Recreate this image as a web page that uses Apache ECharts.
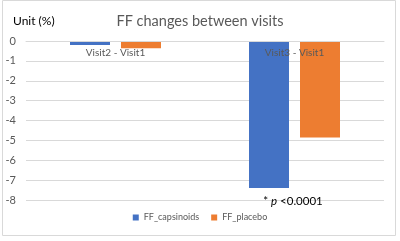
<!DOCTYPE html>
<html><head><meta charset="utf-8">
<script src="https://cdn.jsdelivr.net/npm/echarts@6/dist/echarts.min.js"></script>
<style>html,body{margin:0;padding:0;background:#fff}#c{width:400px;height:241px}</style>
</head><body><div id="c"></div>
<script>
const categories = ['Visit2 - Visit1', 'Visit3 - Visit1'];
const capsinoids = [-0.2, -7.4];
const placebo = [-0.37, -4.85];
const yTicks = [0, -1, -2, -3, -4, -5, -6, -7, -8];
const pNote = '* p <0.0001';

const chart = echarts.init(document.getElementById('c'), null, {renderer: 'canvas'});
const font = 'Lato, "Open Sans", sans-serif';
chart.setOption({
  animation: false,
  textStyle: {fontFamily: font},
  title: {
    text: 'FF changes between visits', left: 'center', top: 9,
    textStyle: {fontSize: 14.5, fontWeight: 'normal', color: '#595959', fontFamily: font}
  },
  graphic: [
    {type: 'rect', shape: {x: 2.5, y: 0.5, width: 393, height: 235}, style: {fill: 'none', stroke: '#d9d9d9', lineWidth: 1}, silent: true},
    {type: 'text', left: 13, top: 15, style: {text: 'Unit (%)', fontSize: 12, fill: '#000', fontFamily: font}}
  ],
  legend: {
    bottom: 14, left: 'center', itemWidth: 6, itemHeight: 6, itemGap: 12, icon: 'rect',
    textStyle: {fontSize: 9, color: '#595959', fontFamily: font},
    data: ['FF_capsinoids', 'FF_placebo']
  },
  grid: {left: 26, right: 16, top: 41, bottom: 41, containLabel: false},
  xAxis: {
    type: 'category', data: categories, position: 'top', z: 10,
    axisLine: {onZero: false, lineStyle: {color: '#d9d9d9'}},
    axisTick: {show: false},
    axisLabel: {inside: true, color: '#595959', fontSize: 10, margin: 7, fontFamily: font}
  },
  yAxis: {
    type: 'value', min: yTicks[yTicks.length - 1], max: yTicks[0], interval: 1,
    axisLabel: {color: '#595959', fontSize: 11, margin: 10, fontFamily: font},
    splitLine: {lineStyle: {color: '#d9d9d9'}},
    axisLine: {show: false}, axisTick: {show: false}
  },
  series: [
    {
      name: 'FF_capsinoids', type: 'bar', barWidth: 40, barGap: '27.5%',
      itemStyle: {color: '#4472c4'},
      data: capsinoids.map((v, i) => i === 1 ? {
        value: v,
        label: {
          show: true, position: 'bottom', distance: 7, offset: [24, 0],
          formatter: '{a|* }{b|p}{a| <0.0001}',
          rich: {
            a: {fontSize: 11.5, color: '#000', fontFamily: font},
            b: {fontSize: 11.5, color: '#000', fontStyle: 'italic', fontFamily: font}
          }
        }
      } : v)
    },
    {
      name: 'FF_placebo', type: 'bar', barWidth: 40,
      itemStyle: {color: '#ed7d31'},
      data: placebo
    }
  ]
});
</script></body></html>
